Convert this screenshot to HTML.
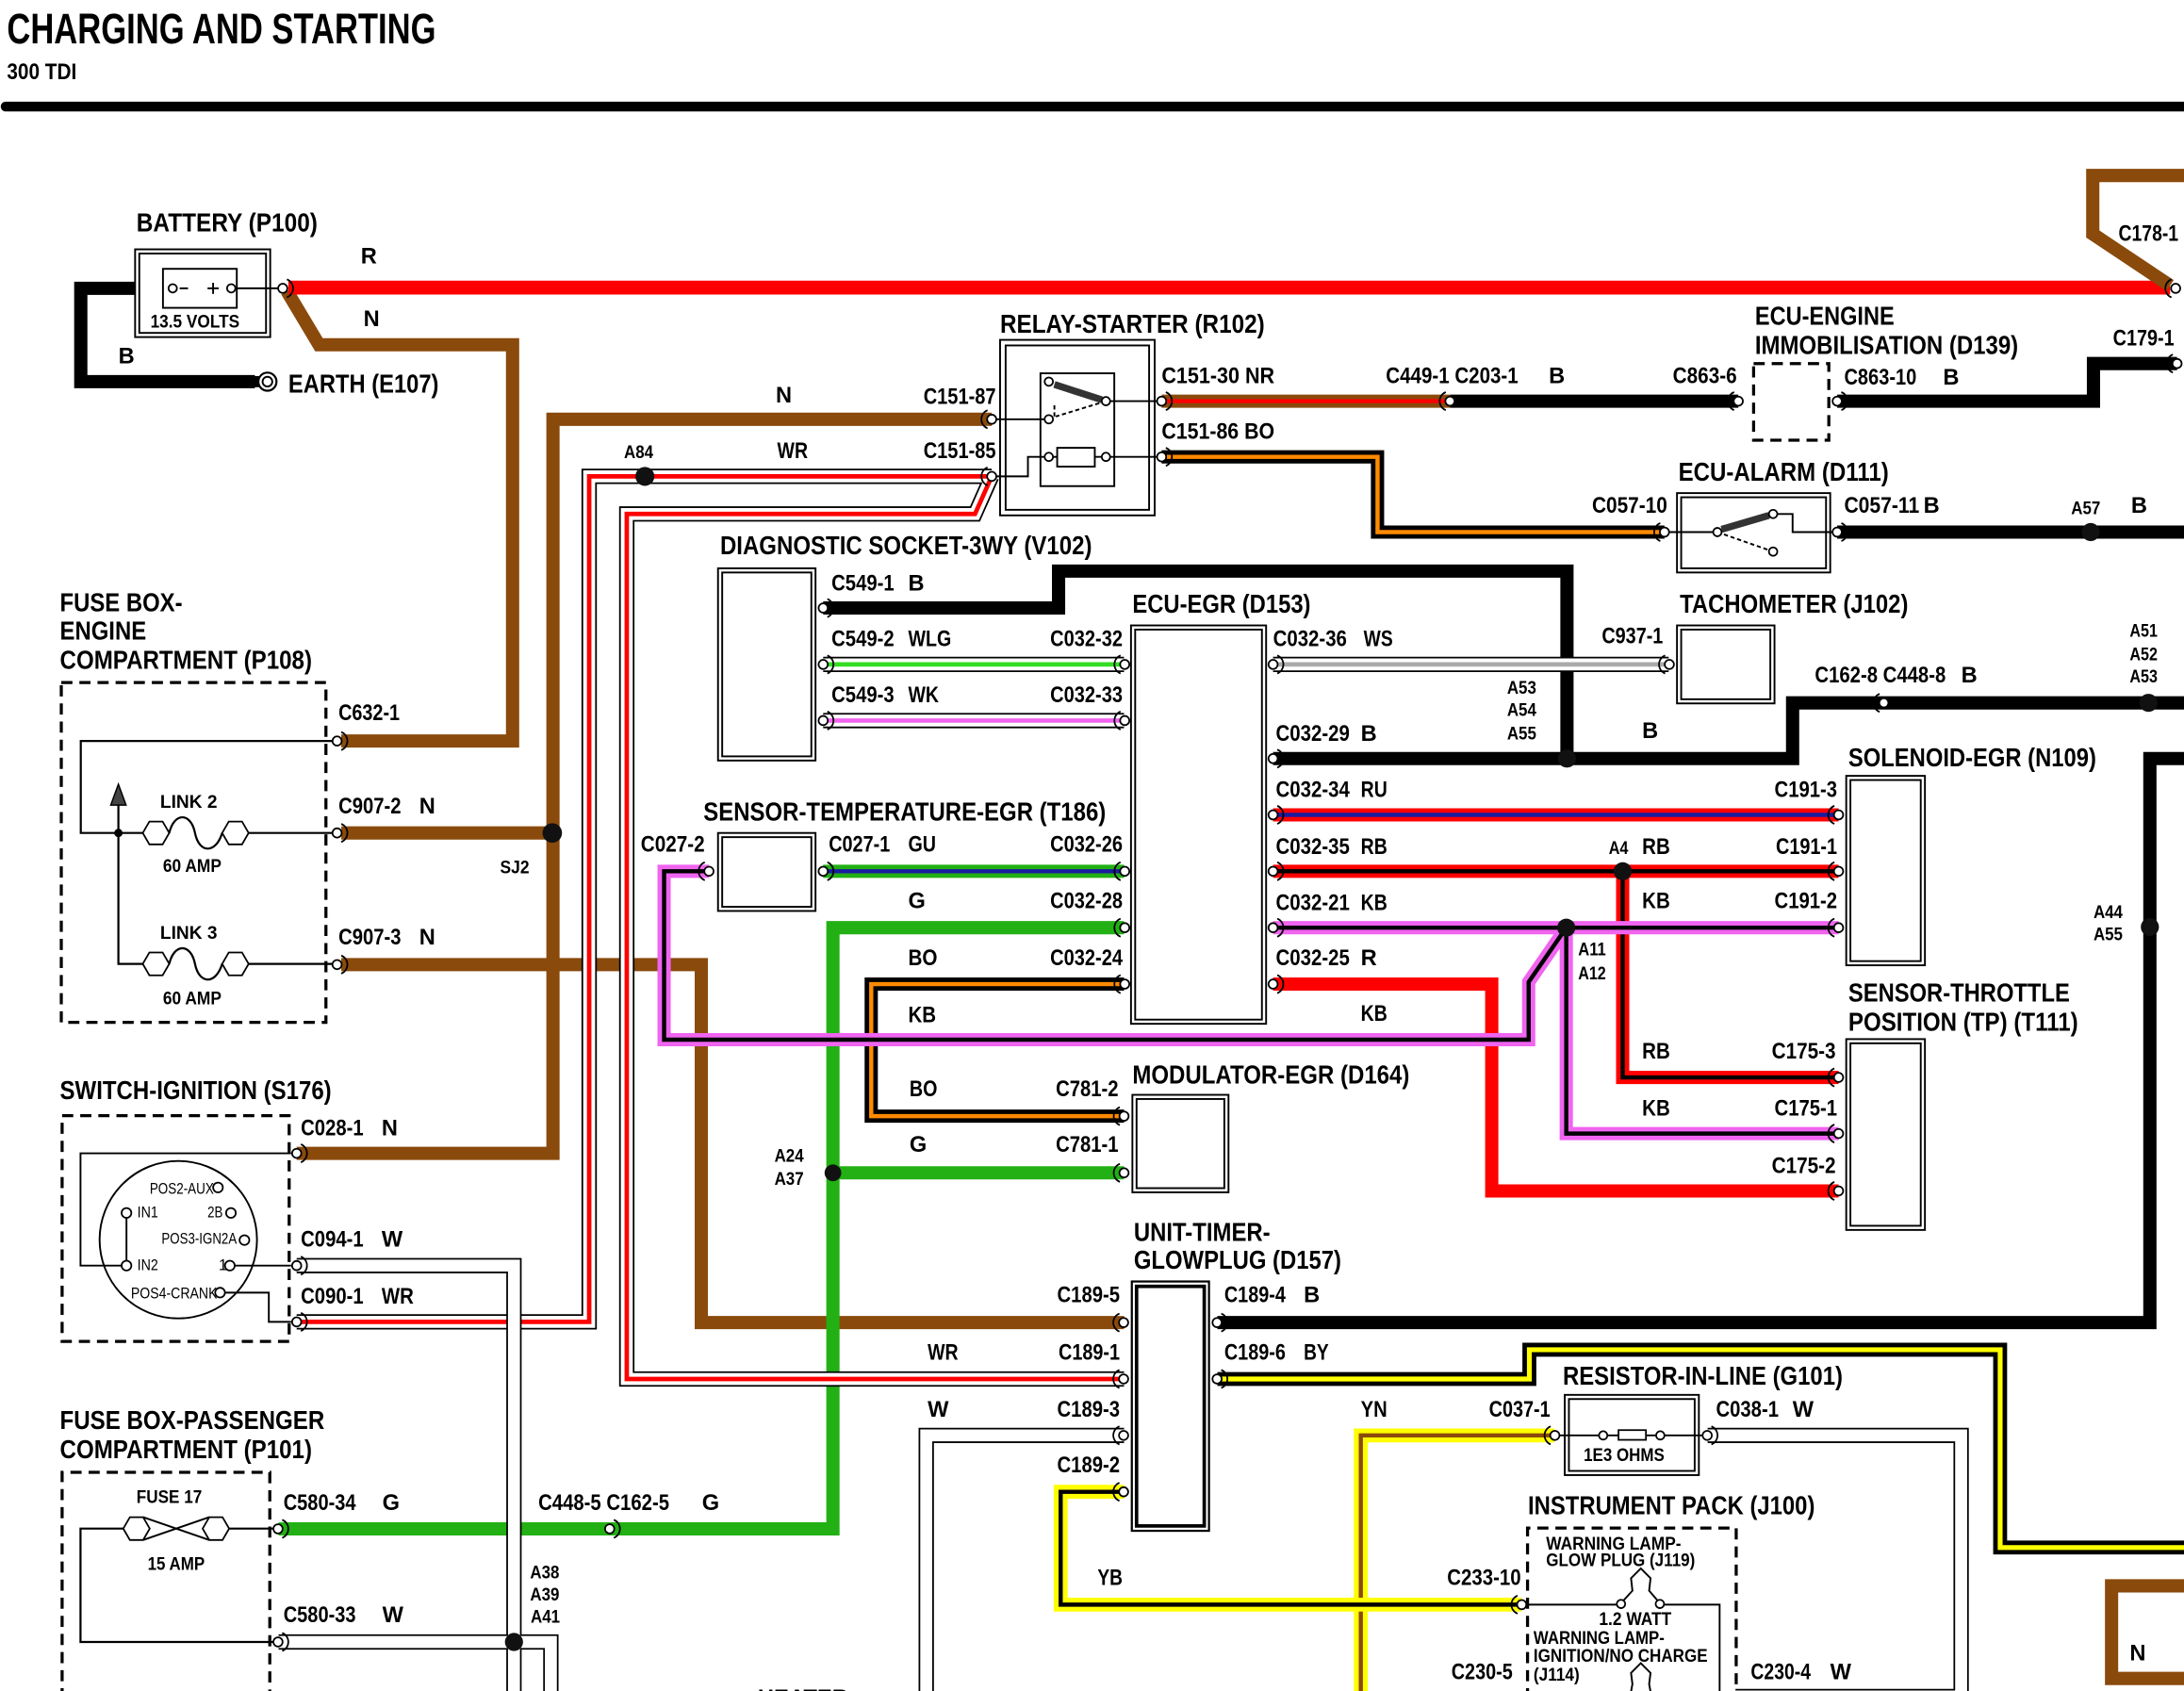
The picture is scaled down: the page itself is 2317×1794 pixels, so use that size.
<!DOCTYPE html>
<html><head><meta charset="utf-8"><style>
html,body{margin:0;padding:0;background:#fff;}
svg{display:block;}
text{font-family:"Liberation Sans Narrow","Liberation Sans",Arial,sans-serif;font-weight:bold;fill:#000;}
.h{font-size:19px;}
.c{font-size:16px;}
.s{font-size:13px;}
.x{font-size:11px;font-weight:normal;}
</style></head><body>
<svg width="2317" height="1794" viewBox="0 0 1568 1214" preserveAspectRatio="none" xmlns="http://www.w3.org/2000/svg">
<defs>
<g id="cR"><circle r="3.3" fill="#fff" stroke="#000" stroke-width="1.2"/><path d="M3,-6.5 A7,7 0 0 1 3,6.5" fill="none" stroke="#000" stroke-width="1.2"/></g>
<g id="cL"><circle r="3.3" fill="#fff" stroke="#000" stroke-width="1.2"/><path d="M-3,-6.5 A7,7 0 0 0 -3,6.5" fill="none" stroke="#000" stroke-width="1.2"/></g>
</defs>
<rect width="1568" height="1214" fill="#fff"/>

<!-- header -->
<text x="5" y="31" style="font-size:31px" textLength="308" lengthAdjust="spacingAndGlyphs">CHARGING AND STARTING</text>
<text x="5" y="57" style="font-size:16px" textLength="50" lengthAdjust="spacingAndGlyphs">300 TDI</text>
<line x1="4" y1="76.5" x2="1570" y2="76.5" stroke="#000" stroke-width="7" stroke-linecap="round"/>

<g fill="none" stroke-linejoin="miter" stroke-miterlimit="10">
<!-- brown -->
<g stroke="#8a4a0c" stroke-width="9.5">
<path d="M206,209 L229,247.5 L368,247.5 L368,532 L245,532"/>
<path d="M712,301 L397,301 L397,828 L213,828"/>
<path d="M245,598 L397,598"/>
<path d="M245,692.5 L503.5,692.5 L503.5,949.5 L807,949.5"/>
<path d="M1568,1138.5 L1516,1138.5 L1516,1205 L1568,1205"/>
</g>
<!-- red main -->
<path d="M207,206.5 L1558,206.5" stroke="#ff0000" stroke-width="10"/>
<path d="M1568,126 L1502.5,126 L1502.5,168 L1558,205" stroke="#8a4a0c" stroke-width="9.5"/>
<!-- black -->
<g stroke="#000" stroke-width="9.5">
<path d="M121,207 L58,207 L58,274 L183,274"/>
<path d="M1041,288 L1248,288"/>
<path d="M1319,288 L1503,288 L1503,261 L1563,261"/>
<path d="M1319,382 L1568,382"/>
<path d="M591,436.5 L760,436.5 L760,410 L1125,410 L1125,544.6"/>
<path d="M914,544.6 L1287,544.6 L1287,504.6 L1568,504.6"/>
<path d="M874,949.5 L1543.5,949.5 L1543.5,544.6 L1568,544.6"/>
</g>
<!-- NR -->
<path d="M834,288 L1041,288" stroke="#8a4a0c" stroke-width="9.5"/>
<path d="M834,288 L1041,288" stroke="#ff0000" stroke-width="3"/>
<!-- BO -->
<path d="M834,328 L989,328 L989,382 L1195,382" stroke="#000" stroke-width="9.5"/>
<path d="M834,328 L989,328 L989,382 L1195,382" stroke="#ff8a00" stroke-width="3"/>
<path d="M807,706.5 L625.5,706.5 L625.5,801.3 L807,801.3" stroke="#000" stroke-width="9.5"/>
<path d="M807,706.5 L625.5,706.5 L625.5,801.3 L807,801.3" stroke="#ff8a00" stroke-width="3"/>
<!-- RU RB R -->
<path d="M914,585 L1320,585" stroke="#ff0000" stroke-width="9.5"/>
<path d="M914,585 L1320,585" stroke="#1a1aa0" stroke-width="3"/>
<path d="M914,625.5 L1320,625.5 M1165,625.5 L1165,773.5 L1320,773.5" stroke="#ff0000" stroke-width="9.5"/>
<path d="M914,625.5 L1320,625.5 M1165,625.5 L1165,773.5 L1320,773.5" stroke="#000" stroke-width="3"/>
<path d="M914,706.5 L1071,706.5 L1071,855 L1320,855" stroke="#ff0000" stroke-width="9.5"/>
<!-- green -->
<path d="M807,666 L598,666 L598,1097.6 L200,1097.6 M598,842 L807,842" stroke="#22b014" stroke-width="9.5"/>
<path d="M591,625.5 L807,625.5" stroke="#22b014" stroke-width="9.5"/>
<path d="M591,625.5 L807,625.5" stroke="#1a1aa0" stroke-width="3"/>
<!-- white-based small -->
<g stroke="#000" stroke-width="11"><path d="M591,477 L807,477"/><path d="M591,517.3 L807,517.3"/><path d="M914,477 L1198,477"/></g>
<g stroke="#fff" stroke-width="8.6"><path d="M591,477 L807,477"/><path d="M591,517.3 L807,517.3"/><path d="M914,477 L1198,477"/></g>
<path d="M591,477 L807,477" stroke="#33dd22" stroke-width="3.2"/>
<path d="M591,517.3 L807,517.3" stroke="#f064f0" stroke-width="3.2"/>
<path d="M914,477 L1198,477" stroke="#aaaaaa" stroke-width="3.2"/>
<!-- WR -->
<g>
<path d="M213,949 L423,949 L423,342 L712,342" stroke="#000" stroke-width="11"/>
<path d="M712,342 L700,369 L450,369 L450,990 L807,990" stroke="#000" stroke-width="11"/>
<path d="M213,949 L423,949 L423,342 L712,342" stroke="#fff" stroke-width="8.6"/>
<path d="M712,342 L700,369 L450,369 L450,990 L807,990" stroke="#fff" stroke-width="8.6"/>
<path d="M213,949 L423,949 L423,342 L712,342" stroke="#ff0000" stroke-width="3.2"/>
<path d="M712,342 L700,369 L450,369 L450,990 L807,990" stroke="#ff0000" stroke-width="3.2"/>
</g>
<!-- W -->
<g stroke="#000" stroke-width="11">
<path d="M213,908.6 L369,908.6 L369,1222"/>
<path d="M200,1178.8 L395.5,1178.8 L395.5,1222"/>
<path d="M807,1030.5 L665,1030.5 L665,1222"/>
<path d="M1226,1030.5 L1408,1030.5 L1408,1222"/>
<path d="M1246,1218 L1408,1218"/>
</g>
<g stroke="#fff" stroke-width="8.6">
<path d="M213,908.6 L369,908.6 L369,1222"/>
<path d="M200,1178.8 L395.5,1178.8 L395.5,1222"/>
<path d="M807,1030.5 L665,1030.5 L665,1222"/>
<path d="M1226,1030.5 L1408,1030.5 L1408,1222"/>
<path d="M1246,1218 L1408,1218"/>
</g>
<!-- pink KB -->
<g stroke="#f064f0" stroke-width="9.5">
<path d="M914,666 L1320,666"/>
<path d="M509,625.5 L476.8,625.5 L476.8,746.4 L1097.5,746.4 L1097.5,705 L1124.5,666"/>
<path d="M1124.5,666 L1124.5,813.8 L1320,813.8"/>
</g>
<g stroke="#000" stroke-width="3">
<path d="M914,666 L1320,666"/>
<path d="M509,625.5 L476.8,625.5 L476.8,746.4 L1097.5,746.4 L1097.5,705 L1124.5,666"/>
<path d="M1124.5,666 L1124.5,813.8 L1320,813.8"/>
</g>
<!-- BY -->
<path d="M874,990 L1098,990 L1098,969 L1436,969 L1436,1111 L1568,1111" stroke="#000" stroke-width="10"/>
<path d="M874,990 L1098,990 L1098,969 L1436,969 L1436,1111 L1568,1111" stroke="#ffff00" stroke-width="3.5"/>
<!-- YN -->
<path d="M1116,1030.5 L977,1030.5 L977,1222" stroke="#ffff00" stroke-width="10"/>
<path d="M1116,1030.5 L977,1030.5 L977,1222" stroke="#8a4a0c" stroke-width="3"/>
<!-- YB -->
<path d="M807,1071 L761.5,1071 L761.5,1152 L1092.5,1152" stroke="#ffff00" stroke-width="10"/>
<path d="M807,1071 L761.5,1071 L761.5,1152 L1092.5,1152" stroke="#000" stroke-width="3"/>
</g>

<!-- splice dots -->
<g fill="#111">
<circle cx="463" cy="342" r="6.8"/>
<circle cx="396.5" cy="598" r="7"/>
<circle cx="1501" cy="382" r="6.5"/>
<circle cx="1125" cy="544.6" r="6.5"/>
<circle cx="1542.5" cy="504.6" r="6.5"/>
<circle cx="1543.5" cy="665.5" r="6.5"/>
<circle cx="1165" cy="625.5" r="6.5"/>
<circle cx="1124.5" cy="666" r="6.5"/>
<circle cx="598" cy="842" r="6"/>
<circle cx="369" cy="1178.8" r="6.5"/>
</g>

<!-- component boxes -->
<g fill="#fff" stroke="#000" stroke-width="1.3">
<!-- battery -->
<rect x="97" y="179" width="97" height="63"/><rect x="100" y="182" width="91" height="57"/>
<rect x="117" y="193" width="53" height="28"/>
<!-- relay -->
<rect x="718" y="244" width="111" height="126"/><rect x="722" y="248" width="103" height="118"/>
<rect x="747" y="268" width="53" height="81"/>
<!-- ecu alarm -->
<rect x="1204" y="354" width="110" height="57"/><rect x="1207" y="357" width="104" height="51"/>
<!-- diag -->
<rect x="515.5" y="408" width="70" height="138"/><rect x="518.5" y="411" width="64" height="132"/>
<!-- ecu egr -->
<rect x="812" y="449" width="97" height="286"/><rect x="815" y="452" width="91" height="280"/>
<!-- tach -->
<rect x="1204" y="449" width="70" height="56"/><rect x="1207" y="452" width="64" height="50"/>
<!-- solenoid -->
<rect x="1325.5" y="557" width="56.5" height="136"/><rect x="1328.5" y="560" width="50.5" height="130"/>
<!-- TP -->
<rect x="1325.5" y="746" width="56.5" height="137"/><rect x="1328.5" y="749" width="50.5" height="131"/>
<!-- temp sensor -->
<rect x="515.5" y="598" width="70" height="56"/><rect x="518.5" y="601" width="64" height="50"/>
<!-- modulator -->
<rect x="813" y="786" width="69" height="70"/><rect x="816" y="789" width="63" height="64"/>
<!-- resistor -->
<rect x="1123.4" y="1001.4" width="96.3" height="57.6"/><rect x="1126.4" y="1004.4" width="90.3" height="51.6"/>
</g>
<!-- unit timer heavy -->
<rect x="812.6" y="920" width="55.4" height="179" fill="#fff" stroke="#000" stroke-width="1.5"/>
<rect x="816" y="923.5" width="48.6" height="172" fill="#fff" stroke="#000" stroke-width="2.5"/>

<!-- dashed boxes -->
<g fill="none" stroke="#000" stroke-width="2.2" stroke-dasharray="8,5">
<rect x="44" y="490" width="190" height="244"/>
<rect x="44.6" y="801" width="163" height="162"/>
<path d="M44.6,1220 L44.6,1057 L193.7,1057 L193.7,1220"/>
<path d="M1096.7,1220 L1096.7,1097 L1246.5,1097 L1246.5,1220"/>
<rect x="1259" y="261" width="54" height="55"/>
</g>

<!-- battery internals -->
<g stroke="#000" stroke-width="1.3" fill="none">
<line x1="129" y1="207" x2="135" y2="207"/>
<line x1="149" y1="207" x2="157" y2="207"/><line x1="153" y1="203" x2="153" y2="211"/>
<line x1="169" y1="207" x2="200" y2="207"/>
</g>
<circle cx="124" cy="207" r="3" fill="#fff" stroke="#000" stroke-width="1.2"/>
<circle cx="166" cy="207" r="3" fill="#fff" stroke="#000" stroke-width="1.2"/>
<!-- earth -->
<rect x="180" y="270" width="6" height="8" fill="#000"/>
<circle cx="192" cy="274" r="6.5" fill="#fff" stroke="#000" stroke-width="1.5"/>
<circle cx="192" cy="274" r="3.5" fill="#fff" stroke="#000" stroke-width="1.3"/>

<!-- relay internals -->
<g stroke="#000" stroke-width="1.3" fill="none">
<line x1="794" y1="288" x2="834" y2="288"/>
<line x1="753" y1="301" x2="712" y2="301"/>
<path d="M794,288 L758,299" stroke-dasharray="3,2"/>
<path d="M757,291 L757,299" stroke-dasharray="3,2"/>
<line x1="753" y1="328" x2="759" y2="328"/>
<line x1="786" y1="328" x2="834" y2="328"/>
<path d="M753,328 L738,328 L738,342 L712,342"/>
</g>
<line x1="757" y1="276" x2="791" y2="287" stroke="#333" stroke-width="5"/>
<rect x="759" y="321.5" width="27" height="13.5" fill="#fff" stroke="#000" stroke-width="1.3"/>
<g fill="#fff" stroke="#000" stroke-width="1.2">
<circle cx="753" cy="274" r="3"/><circle cx="794" cy="288" r="3"/><circle cx="753" cy="301" r="3"/>
<circle cx="753" cy="328" r="3"/><circle cx="794" cy="328" r="3"/>
</g>

<!-- alarm internals -->
<g stroke="#000" stroke-width="1.3" fill="none">
<line x1="1195" y1="382" x2="1233" y2="382"/>
<path d="M1319,382 L1287,382 L1287,369 L1273,369"/>
<path d="M1233,382 L1273,396" stroke-dasharray="3,2"/>
</g>
<line x1="1236" y1="380" x2="1270" y2="370" stroke="#333" stroke-width="5"/>
<g fill="#fff" stroke="#000" stroke-width="1.2">
<circle cx="1233" cy="382" r="3"/><circle cx="1273" cy="369" r="3"/><circle cx="1273" cy="396" r="3"/>
</g>

<!-- fuse box engine internals -->
<g stroke="#000" stroke-width="1.5" fill="none">
<path d="M240,532 L58,532 L58,598 L102.5,598"/>
<path d="M178.5,598 L240,598"/>
<path d="M85,578 L85,692 L102.5,692"/>
<path d="M178.5,692 L240,692"/>
<path d="M121.5,598 C125,583 137,583 140,598 C143,613 155,613 159.5,598"/>
<path d="M121.5,692 C125,677 137,677 140,692 C143,707 155,707 159.5,692"/>
</g>
<g fill="#fff" stroke="#000" stroke-width="1.2">
<polygon points="121.5,598 116.75,589.8 107.25,589.8 102.5,598 107.25,606.2 116.75,606.2"/>
<polygon points="178.5,598 173.75,589.8 164.25,589.8 159.5,598 164.25,606.2 173.75,606.2"/>
<polygon points="121.5,692 116.75,683.8 107.25,683.8 102.5,692 107.25,700.2 116.75,700.2"/>
<polygon points="178.5,692 173.75,683.8 164.25,683.8 159.5,692 164.25,700.2 173.75,700.2"/>
</g>
<circle cx="85" cy="598" r="3" fill="#000"/>
<polygon points="85,563 79.5,578 90.5,578" fill="#444" stroke="#000" stroke-width="1"/>

<!-- ignition internals -->
<g stroke="#000" stroke-width="1.3" fill="none">
<circle cx="128" cy="890" r="56.5"/>
<line x1="90.8" y1="874.3" x2="90.8" y2="905.1"/>
<path d="M209,828 L57.8,828 L57.8,908.6 L87.3,908.6"/>
<line x1="168.5" y1="908.6" x2="209" y2="908.6"/>
<path d="M161.5,928 L193,928 L193,949 L209,949"/>
</g>
<g fill="#fff" stroke="#000" stroke-width="1.2">
<circle cx="156.5" cy="852.5" r="3.5"/><circle cx="90.8" cy="870.8" r="3.5"/><circle cx="165.8" cy="870.8" r="3.5"/>
<circle cx="175.5" cy="890.3" r="3.5"/><circle cx="90.8" cy="908.6" r="3.5"/><circle cx="165" cy="908.6" r="3.5"/>
<circle cx="158" cy="928" r="3.5"/>
</g>

<!-- passenger fuse internals -->
<g stroke="#000" stroke-width="1.5" fill="none">
<path d="M164.5,1097.4 L199.6,1097.4"/>
<path d="M88.5,1097.4 L57.8,1097.4 L57.8,1178.8 L199.6,1178.8"/>
</g>
<g fill="#fff" stroke="#000" stroke-width="1.2">
<polygon points="107.5,1097.4 102.75,1089.2 93.25,1089.2 88.5,1097.4 93.25,1105.6 102.75,1105.6"/>
<polygon points="164.5,1097.4 159.75,1089.2 150.25,1089.2 145.5,1097.4 150.25,1105.6 159.75,1105.6"/>
</g>
<g stroke="#000" stroke-width="1.3">
<line x1="102.75" y1="1089.2" x2="150.25" y2="1105.6"/>
<line x1="102.75" y1="1105.6" x2="150.25" y2="1089.2"/>
</g>

<!-- resistor internals -->
<line x1="1116" y1="1030.5" x2="1226" y2="1030.5" stroke="#000" stroke-width="1.3"/>
<g fill="#fff" stroke="#000" stroke-width="1.2">
<circle cx="1151" cy="1030.5" r="3"/><circle cx="1192" cy="1030.5" r="3"/>
<rect x="1162" y="1026.7" width="19.7" height="7"/>
</g>

<!-- instrument internals -->
<g stroke="#000" stroke-width="1.3" fill="none">
<path d="M1092.5,1152 L1160.8,1152"/>
<path d="M1194.7,1152 L1234.6,1152 L1234.6,1220"/>
<path d="M1163.8,1151 L1172,1142 L1171,1133 L1178,1126 L1185,1133 L1184,1142 L1191.7,1151"/>
<path d="M1170,1220 L1172,1209 L1171,1201 L1178,1194 L1185,1201 L1184,1209 L1186,1220"/>
</g>
<g fill="#fff" stroke="#000" stroke-width="1.2">
<circle cx="1163.8" cy="1151.5" r="3"/><circle cx="1191.7" cy="1151.5" r="3"/>
</g>

<!-- connectors -->
<use href="#cR" x="203" y="207"/>
<use href="#cR" x="242" y="532"/><use href="#cR" x="242" y="598"/><use href="#cR" x="242" y="692.5"/>
<use href="#cL" x="712" y="301"/><use href="#cL" x="712" y="342"/>
<use href="#cR" x="834" y="288"/><use href="#cR" x="834" y="328"/>
<use href="#cL" x="1041" y="288"/>
<use href="#cL" x="1248" y="288"/><use href="#cR" x="1319" y="288"/>
<use href="#cL" x="1563" y="261"/><use href="#cL" x="1562" y="207"/>
<use href="#cL" x="1195" y="382"/><use href="#cR" x="1319" y="382"/>
<use href="#cR" x="591" y="436.5"/><use href="#cR" x="591" y="477"/><use href="#cR" x="591" y="517.3"/>
<use href="#cL" x="807.5" y="477"/><use href="#cL" x="807.5" y="517.3"/><use href="#cL" x="807.5" y="625.5"/><use href="#cL" x="807.5" y="666"/><use href="#cL" x="807.5" y="706.5"/>
<use href="#cR" x="914" y="477"/><use href="#cR" x="914" y="544.6"/><use href="#cR" x="914" y="585"/><use href="#cR" x="914" y="625.5"/><use href="#cR" x="914" y="666"/><use href="#cR" x="914" y="706.5"/>
<use href="#cL" x="1198.5" y="477"/>
<use href="#cL" x="1352.5" y="504.6"/>
<use href="#cL" x="1320" y="585"/><use href="#cL" x="1320" y="625.5"/><use href="#cL" x="1320" y="666"/>
<use href="#cL" x="1320" y="773.5"/><use href="#cL" x="1320" y="813.8"/><use href="#cL" x="1320" y="855"/>
<use href="#cL" x="509" y="625.5"/><use href="#cR" x="591" y="625.5"/>
<use href="#cL" x="807" y="801.3"/><use href="#cL" x="807" y="842"/>
<use href="#cR" x="213" y="828"/><use href="#cR" x="213" y="908.6"/><use href="#cR" x="213" y="949"/>
<use href="#cL" x="806.7" y="949.5"/><use href="#cL" x="806.7" y="990"/><use href="#cL" x="806.7" y="1030.5"/><use href="#cL" x="806.7" y="1071"/>
<use href="#cR" x="873.8" y="949.5"/><use href="#cR" x="873.8" y="990"/>
<use href="#cL" x="1116.3" y="1030.5"/><use href="#cR" x="1225.7" y="1030.5"/>
<use href="#cR" x="199.6" y="1097.6"/><use href="#cR" x="199.6" y="1178.8"/>
<use href="#cR" x="437.7" y="1097.6"/>
<use href="#cL" x="1092.5" y="1152"/>

<!-- labels -->
<g lengthAdjust="spacingAndGlyphs">
<text class="h" x="98" y="166" textLength="130" lengthAdjust="spacingAndGlyphs">BATTERY (P100)</text>
<text class="s" x="108" y="235" textLength="64" lengthAdjust="spacingAndGlyphs">13.5 VOLTS</text>
<text class="c" x="259" y="189">R</text>
<text class="c" x="261" y="234">N</text>
<text class="c" x="85" y="261">B</text>
<text class="h" x="207" y="282" textLength="108" lengthAdjust="spacingAndGlyphs">EARTH (E107)</text>

<text class="h" x="43" y="439" textLength="88" lengthAdjust="spacingAndGlyphs">FUSE BOX-</text>
<text class="h" x="43" y="459" textLength="62" lengthAdjust="spacingAndGlyphs">ENGINE</text>
<text class="h" x="43" y="480" textLength="181" lengthAdjust="spacingAndGlyphs">COMPARTMENT (P108)</text>
<text class="c" x="243" y="517" textLength="44" lengthAdjust="spacingAndGlyphs">C632-1</text>
<text class="c" x="243" y="584" textLength="45" lengthAdjust="spacingAndGlyphs">C907-2</text>
<text class="c" x="301" y="584">N</text>
<text class="c" x="243" y="678" textLength="45" lengthAdjust="spacingAndGlyphs">C907-3</text>
<text class="c" x="301" y="678">N</text>
<text class="s" x="115" y="580" textLength="41" lengthAdjust="spacingAndGlyphs">LINK 2</text>
<text class="s" x="117" y="626" textLength="42" lengthAdjust="spacingAndGlyphs">60 AMP</text>
<text class="s" x="115" y="674" textLength="41" lengthAdjust="spacingAndGlyphs">LINK 3</text>
<text class="s" x="117" y="721" textLength="42" lengthAdjust="spacingAndGlyphs">60 AMP</text>
<text class="s" x="359" y="627" textLength="21" lengthAdjust="spacingAndGlyphs">SJ2</text>

<text class="h" x="718" y="239" textLength="190" lengthAdjust="spacingAndGlyphs">RELAY-STARTER (R102)</text>
<text class="c" x="557" y="289">N</text>
<text class="c" x="663" y="290" textLength="52" lengthAdjust="spacingAndGlyphs">C151-87</text>
<text class="s" x="448" y="329" textLength="21" lengthAdjust="spacingAndGlyphs">A84</text>
<text class="c" x="558" y="329" textLength="22" lengthAdjust="spacingAndGlyphs">WR</text>
<text class="c" x="663" y="329" textLength="52" lengthAdjust="spacingAndGlyphs">C151-85</text>
<text class="c" x="834" y="275" textLength="81" lengthAdjust="spacingAndGlyphs">C151-30  NR</text>
<text class="c" x="834" y="315" textLength="81" lengthAdjust="spacingAndGlyphs">C151-86  BO</text>
<text class="c" x="995" y="275" textLength="95" lengthAdjust="spacingAndGlyphs">C449-1 C203-1</text>
<text class="c" x="1112" y="275">B</text>
<text class="c" x="1201" y="275" textLength="46" lengthAdjust="spacingAndGlyphs">C863-6</text>
<text class="c" x="1324" y="276" textLength="52" lengthAdjust="spacingAndGlyphs">C863-10</text>
<text class="c" x="1395" y="276">B</text>
<text class="h" x="1260" y="233" textLength="100" lengthAdjust="spacingAndGlyphs">ECU-ENGINE</text>
<text class="h" x="1260" y="254" textLength="189" lengthAdjust="spacingAndGlyphs">IMMOBILISATION (D139)</text>
<text class="c" x="1517" y="248" textLength="44" lengthAdjust="spacingAndGlyphs">C179-1</text>
<text class="c" x="1521" y="173" textLength="43" lengthAdjust="spacingAndGlyphs">C178-1</text>
<text class="h" x="1205" y="345" textLength="151" lengthAdjust="spacingAndGlyphs">ECU-ALARM (D111)</text>
<text class="c" x="1143" y="368" textLength="54" lengthAdjust="spacingAndGlyphs">C057-10</text>
<text class="c" x="1324" y="368" textLength="54" lengthAdjust="spacingAndGlyphs">C057-11</text>
<text class="c" x="1381" y="368">B</text>
<text class="s" x="1487" y="369" textLength="21" lengthAdjust="spacingAndGlyphs">A57</text>
<text class="c" x="1530" y="368">B</text>

<text class="h" x="517" y="398" textLength="267" lengthAdjust="spacingAndGlyphs">DIAGNOSTIC SOCKET-3WY (V102)</text>
<text class="c" x="597" y="424" textLength="45" lengthAdjust="spacingAndGlyphs">C549-1</text>
<text class="c" x="652" y="424">B</text>
<text class="c" x="597" y="464" textLength="45" lengthAdjust="spacingAndGlyphs">C549-2</text>
<text class="c" x="652" y="464" textLength="31" lengthAdjust="spacingAndGlyphs">WLG</text>
<text class="c" x="754" y="464" textLength="52" lengthAdjust="spacingAndGlyphs">C032-32</text>
<text class="c" x="597" y="504" textLength="45" lengthAdjust="spacingAndGlyphs">C549-3</text>
<text class="c" x="652" y="504" textLength="22" lengthAdjust="spacingAndGlyphs">WK</text>
<text class="c" x="754" y="504" textLength="52" lengthAdjust="spacingAndGlyphs">C032-33</text>
<text class="h" x="813" y="440" textLength="128" lengthAdjust="spacingAndGlyphs">ECU-EGR (D153)</text>
<text class="c" x="914" y="464" textLength="53" lengthAdjust="spacingAndGlyphs">C032-36</text>
<text class="c" x="979" y="464" textLength="21" lengthAdjust="spacingAndGlyphs">WS</text>
<text class="s" x="1082" y="498" textLength="21" lengthAdjust="spacingAndGlyphs">A53</text>
<text class="s" x="1082" y="514" textLength="21" lengthAdjust="spacingAndGlyphs">A54</text>
<text class="s" x="1082" y="531" textLength="21" lengthAdjust="spacingAndGlyphs">A55</text>
<text class="c" x="916" y="532" textLength="53" lengthAdjust="spacingAndGlyphs">C032-29</text>
<text class="c" x="977" y="532">B</text>
<text class="c" x="1179" y="530">B</text>
<text class="h" x="1206" y="440" textLength="164" lengthAdjust="spacingAndGlyphs">TACHOMETER (J102)</text>
<text class="c" x="1150" y="462" textLength="44" lengthAdjust="spacingAndGlyphs">C937-1</text>
<text class="c" x="1303" y="490" textLength="94" lengthAdjust="spacingAndGlyphs">C162-8 C448-8</text>
<text class="c" x="1408" y="490">B</text>
<text class="s" x="1529" y="457" textLength="20" lengthAdjust="spacingAndGlyphs">A51</text>
<text class="s" x="1529" y="474" textLength="20" lengthAdjust="spacingAndGlyphs">A52</text>
<text class="s" x="1529" y="490" textLength="20" lengthAdjust="spacingAndGlyphs">A53</text>
<text class="h" x="1327" y="550" textLength="178" lengthAdjust="spacingAndGlyphs">SOLENOID-EGR (N109)</text>
<text class="c" x="916" y="572" textLength="53" lengthAdjust="spacingAndGlyphs">C032-34</text>
<text class="c" x="977" y="572" textLength="19" lengthAdjust="spacingAndGlyphs">RU</text>
<text class="c" x="1274" y="572" textLength="45" lengthAdjust="spacingAndGlyphs">C191-3</text>
<text class="c" x="916" y="613" textLength="53" lengthAdjust="spacingAndGlyphs">C032-35</text>
<text class="c" x="977" y="613" textLength="19" lengthAdjust="spacingAndGlyphs">RB</text>
<text class="s" x="1155" y="613" textLength="14" lengthAdjust="spacingAndGlyphs">A4</text>
<text class="c" x="1179" y="613" textLength="20" lengthAdjust="spacingAndGlyphs">RB</text>
<text class="c" x="1275" y="613" textLength="44" lengthAdjust="spacingAndGlyphs">C191-1</text>
<text class="c" x="916" y="653.5" textLength="53" lengthAdjust="spacingAndGlyphs">C032-21</text>
<text class="c" x="977" y="653.5" textLength="19" lengthAdjust="spacingAndGlyphs">KB</text>
<text class="c" x="1179" y="652" textLength="20" lengthAdjust="spacingAndGlyphs">KB</text>
<text class="c" x="1274" y="652" textLength="45" lengthAdjust="spacingAndGlyphs">C191-2</text>
<text class="c" x="916" y="693" textLength="53" lengthAdjust="spacingAndGlyphs">C032-25</text>
<text class="c" x="977" y="693">R</text>
<text class="s" x="1133" y="686" textLength="20" lengthAdjust="spacingAndGlyphs">A11</text>
<text class="s" x="1133" y="703" textLength="20" lengthAdjust="spacingAndGlyphs">A12</text>
<text class="h" x="1327" y="719" textLength="159" lengthAdjust="spacingAndGlyphs">SENSOR-THROTTLE</text>
<text class="h" x="1327" y="740" textLength="165" lengthAdjust="spacingAndGlyphs">POSITION (TP) (T111)</text>
<text class="c" x="977" y="733" textLength="19" lengthAdjust="spacingAndGlyphs">KB</text>
<text class="c" x="1179" y="760" textLength="20" lengthAdjust="spacingAndGlyphs">RB</text>
<text class="c" x="1272" y="760" textLength="46" lengthAdjust="spacingAndGlyphs">C175-3</text>
<text class="c" x="1179" y="801" textLength="20" lengthAdjust="spacingAndGlyphs">KB</text>
<text class="c" x="1274" y="801" textLength="45" lengthAdjust="spacingAndGlyphs">C175-1</text>
<text class="c" x="1272" y="842" textLength="46" lengthAdjust="spacingAndGlyphs">C175-2</text>
<text class="s" x="1503" y="659" textLength="21" lengthAdjust="spacingAndGlyphs">A44</text>
<text class="s" x="1503" y="675" textLength="21" lengthAdjust="spacingAndGlyphs">A55</text>

<text class="h" x="505" y="589" textLength="289" lengthAdjust="spacingAndGlyphs">SENSOR-TEMPERATURE-EGR (T186)</text>
<text class="c" x="460" y="611.5" textLength="46" lengthAdjust="spacingAndGlyphs">C027-2</text>
<text class="c" x="595" y="611.5" textLength="44" lengthAdjust="spacingAndGlyphs">C027-1</text>
<text class="c" x="652" y="611.5" textLength="20" lengthAdjust="spacingAndGlyphs">GU</text>
<text class="c" x="754" y="611.5" textLength="52" lengthAdjust="spacingAndGlyphs">C032-26</text>
<text class="c" x="652" y="652">G</text>
<text class="c" x="754" y="652" textLength="52" lengthAdjust="spacingAndGlyphs">C032-28</text>
<text class="c" x="652" y="693" textLength="21" lengthAdjust="spacingAndGlyphs">BO</text>
<text class="c" x="754" y="693" textLength="52" lengthAdjust="spacingAndGlyphs">C032-24</text>
<text class="c" x="652" y="734" textLength="20" lengthAdjust="spacingAndGlyphs">KB</text>
<text class="h" x="813" y="778" textLength="199" lengthAdjust="spacingAndGlyphs">MODULATOR-EGR (D164)</text>
<text class="c" x="653" y="787" textLength="20" lengthAdjust="spacingAndGlyphs">BO</text>
<text class="c" x="758" y="787" textLength="45" lengthAdjust="spacingAndGlyphs">C781-2</text>
<text class="c" x="653" y="827">G</text>
<text class="c" x="758" y="827" textLength="45" lengthAdjust="spacingAndGlyphs">C781-1</text>
<text class="s" x="556" y="834" textLength="21" lengthAdjust="spacingAndGlyphs">A24</text>
<text class="s" x="556" y="850.5" textLength="21" lengthAdjust="spacingAndGlyphs">A37</text>

<text class="h" x="43" y="789" textLength="195" lengthAdjust="spacingAndGlyphs">SWITCH-IGNITION (S176)</text>
<text class="c" x="216" y="815" textLength="45" lengthAdjust="spacingAndGlyphs">C028-1</text>
<text class="c" x="274" y="815">N</text>
<text class="c" x="216" y="895" textLength="45" lengthAdjust="spacingAndGlyphs">C094-1</text>
<text class="c" x="274" y="895">W</text>
<text class="c" x="216" y="936" textLength="45" lengthAdjust="spacingAndGlyphs">C090-1</text>
<text class="c" x="274" y="936" textLength="23" lengthAdjust="spacingAndGlyphs">WR</text>
<text class="x" x="107.5" y="857" textLength="46" lengthAdjust="spacingAndGlyphs">POS2-AUX</text>
<text class="x" x="98.6" y="874" textLength="15" lengthAdjust="spacingAndGlyphs">IN1</text>
<text class="x" x="149" y="874" textLength="11" lengthAdjust="spacingAndGlyphs">2B</text>
<text class="x" x="116" y="893" textLength="54" lengthAdjust="spacingAndGlyphs">POS3-IGN2A</text>
<text class="x" x="98.6" y="912" textLength="15" lengthAdjust="spacingAndGlyphs">IN2</text>
<text class="x" x="157" y="912">1</text>
<text class="x" x="94" y="932" textLength="62" lengthAdjust="spacingAndGlyphs">POS4-CRANK</text>

<text class="h" x="814" y="891" textLength="98" lengthAdjust="spacingAndGlyphs">UNIT-TIMER-</text>
<text class="h" x="814" y="911" textLength="149" lengthAdjust="spacingAndGlyphs">GLOWPLUG (D157)</text>
<text class="c" x="759" y="935" textLength="45" lengthAdjust="spacingAndGlyphs">C189-5</text>
<text class="c" x="879" y="935" textLength="44" lengthAdjust="spacingAndGlyphs">C189-4</text>
<text class="c" x="936" y="935">B</text>
<text class="c" x="666" y="976" textLength="22" lengthAdjust="spacingAndGlyphs">WR</text>
<text class="c" x="760" y="976" textLength="44" lengthAdjust="spacingAndGlyphs">C189-1</text>
<text class="c" x="879" y="976" textLength="44" lengthAdjust="spacingAndGlyphs">C189-6</text>
<text class="c" x="936" y="976" textLength="18" lengthAdjust="spacingAndGlyphs">BY</text>
<text class="c" x="666" y="1017">W</text>
<text class="c" x="759" y="1017" textLength="45" lengthAdjust="spacingAndGlyphs">C189-3</text>
<text class="c" x="977" y="1017" textLength="19" lengthAdjust="spacingAndGlyphs">YN</text>
<text class="c" x="1069" y="1017" textLength="44" lengthAdjust="spacingAndGlyphs">C037-1</text>
<text class="h" x="1122" y="994" textLength="201" lengthAdjust="spacingAndGlyphs">RESISTOR-IN-LINE (G101)</text>
<text class="c" x="1232" y="1017" textLength="45" lengthAdjust="spacingAndGlyphs">C038-1</text>
<text class="c" x="1287" y="1017">W</text>
<text class="s" x="1137" y="1049" textLength="58" lengthAdjust="spacingAndGlyphs">1E3 OHMS</text>
<text class="c" x="759" y="1057" textLength="45" lengthAdjust="spacingAndGlyphs">C189-2</text>
<text class="h" x="1097" y="1087" textLength="206" lengthAdjust="spacingAndGlyphs">INSTRUMENT PACK (J100)</text>
<text class="s" x="1110" y="1112.6" textLength="97" lengthAdjust="spacingAndGlyphs">WARNING LAMP-</text>
<text class="s" x="1110" y="1124.4" textLength="107" lengthAdjust="spacingAndGlyphs">GLOW PLUG (J119)</text>
<text class="c" x="788" y="1138" textLength="18" lengthAdjust="spacingAndGlyphs">YB</text>
<text class="c" x="1039" y="1138" textLength="53" lengthAdjust="spacingAndGlyphs">C233-10</text>
<text class="s" x="1148" y="1166.5" textLength="52" lengthAdjust="spacingAndGlyphs">1.2 WATT</text>
<text class="s" x="1101" y="1180" textLength="94" lengthAdjust="spacingAndGlyphs">WARNING LAMP-</text>
<text class="s" x="1101" y="1193" textLength="125" lengthAdjust="spacingAndGlyphs">IGNITION/NO CHARGE</text>
<text class="s" x="1101" y="1206.5" textLength="33" lengthAdjust="spacingAndGlyphs">(J114)</text>
<text class="c" x="1042" y="1205.4" textLength="44" lengthAdjust="spacingAndGlyphs">C230-5</text>
<text class="c" x="1257" y="1205.4" textLength="43" lengthAdjust="spacingAndGlyphs">C230-4</text>
<text class="c" x="1314" y="1205.4">W</text>
<text class="c" x="1529" y="1192">N</text>
<text class="h" x="544" y="1226" textLength="65" lengthAdjust="spacingAndGlyphs">HEATER</text>

<text class="h" x="43" y="1026" textLength="190" lengthAdjust="spacingAndGlyphs">FUSE BOX-PASSENGER</text>
<text class="h" x="43" y="1047" textLength="181" lengthAdjust="spacingAndGlyphs">COMPARTMENT (P101)</text>
<text class="s" x="98" y="1079" textLength="47" lengthAdjust="spacingAndGlyphs">FUSE 17</text>
<text class="s" x="106" y="1127" textLength="41" lengthAdjust="spacingAndGlyphs">15 AMP</text>
<text class="c" x="203.5" y="1084" textLength="52" lengthAdjust="spacingAndGlyphs">C580-34</text>
<text class="c" x="274.5" y="1084">G</text>
<text class="c" x="203.5" y="1164.5" textLength="52" lengthAdjust="spacingAndGlyphs">C580-33</text>
<text class="c" x="274.5" y="1164.5">W</text>
<text class="c" x="386.5" y="1084" textLength="94" lengthAdjust="spacingAndGlyphs">C448-5 C162-5</text>
<text class="c" x="504" y="1084">G</text>
<text class="s" x="380.6" y="1133" textLength="21" lengthAdjust="spacingAndGlyphs">A38</text>
<text class="s" x="380.6" y="1149" textLength="21" lengthAdjust="spacingAndGlyphs">A39</text>
<text class="s" x="381" y="1165" textLength="21" lengthAdjust="spacingAndGlyphs">A41</text>
</g>
</svg>
</body></html>
